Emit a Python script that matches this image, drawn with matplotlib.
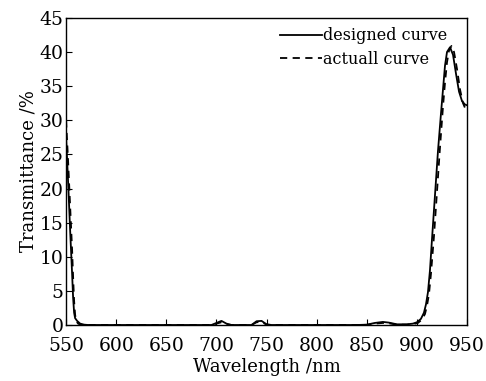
import numpy as np
import matplotlib.pyplot as plt

plt.rcParams['font.family'] = 'DejaVu Serif'

wl_designed = [550, 552, 554, 556, 557, 558, 559, 561, 564, 568, 572,
               695, 700, 705, 710, 715, 735, 740, 745, 750, 755,
               840, 850, 858, 866, 872, 880, 890, 896, 900, 904, 907, 909, 911,
               913, 915, 918, 921, 924, 926, 928, 930, 933, 936, 939, 942, 945,
               948, 950]
t_designed = [27.5, 21, 14, 7.5, 4, 1.8, 1.0, 0.6, 0.2, 0.05, 0,
              0, 0.3, 0.6, 0.2, 0, 0, 0.55, 0.6, 0.1, 0,
              0, 0.05, 0.3, 0.45, 0.35, 0.1, 0.1, 0.2, 0.4, 0.9, 1.8, 3, 4.8,
              8, 12.5, 19, 25.5, 31, 34.5, 38, 40, 40.7, 39.6, 36.8, 34.2, 32.8,
              32.3, 32.2]

wl_actual = [550, 552, 554, 556, 557, 558, 559, 560, 562, 565, 572,
             695, 700, 705, 710, 715, 735, 740, 745, 750, 755,
             840, 850, 858, 866, 872, 880, 890, 897, 901, 905, 908, 910, 912,
             914, 917, 920, 923, 926, 928, 930, 932, 934.5, 937, 940, 943, 946,
             948, 950]
t_actual = [30, 24, 17.5, 11, 7, 3.5, 1.5, 0.6, 0.2, 0, 0,
            0, 0.2, 0.4, 0.1, 0, 0, 0.4, 0.45, 0.05, 0,
            0, 0.02, 0.2, 0.3, 0.25, 0.05, 0.05, 0.15, 0.3, 0.8, 1.6, 2.8, 4.5,
            7.5, 13, 19.5, 26, 32, 35.5, 38.5, 40.2, 40.9, 40, 37.5, 34.5, 32.5,
            31.8, 31.5]

fig, ax = plt.subplots(figsize=(4.86, 3.81), dpi=100)

ax.plot(wl_designed, t_designed, color='black', linewidth=1.3, label='designed curve')
ax.plot(wl_actual, t_actual, color='black', linewidth=1.3, linestyle=(0, (4, 3)),
        label='actuall curve')

ax.set_xlim(550, 950)
ax.set_ylim(0, 45)
ax.set_xticks(np.arange(550, 951, 50))
ax.set_yticks(np.arange(0, 46, 5))
ax.tick_params(direction='in', length=4, labelsize=13.5, top=False, right=False)
ax.tick_params(axis='x', pad=8.5)
ax.tick_params(axis='y', pad=2)
for s in ax.spines.values():
    s.set_linewidth(1.0)
ax.set_xlabel('Wavelength /nm', fontsize=13, labelpad=2)
ax.set_ylabel('Transmittance /%', fontsize=13, labelpad=1)

ax.legend(loc='upper right', frameon=False, fontsize=11.5, handlelength=2.6,
          handletextpad=0.1, borderaxespad=0.2, labelspacing=0.4,
          bbox_to_anchor=(0.975, 1.0))

plt.subplots_adjust(left=0.136, right=0.961, top=0.953, bottom=0.147)
plt.savefig('out.png')
